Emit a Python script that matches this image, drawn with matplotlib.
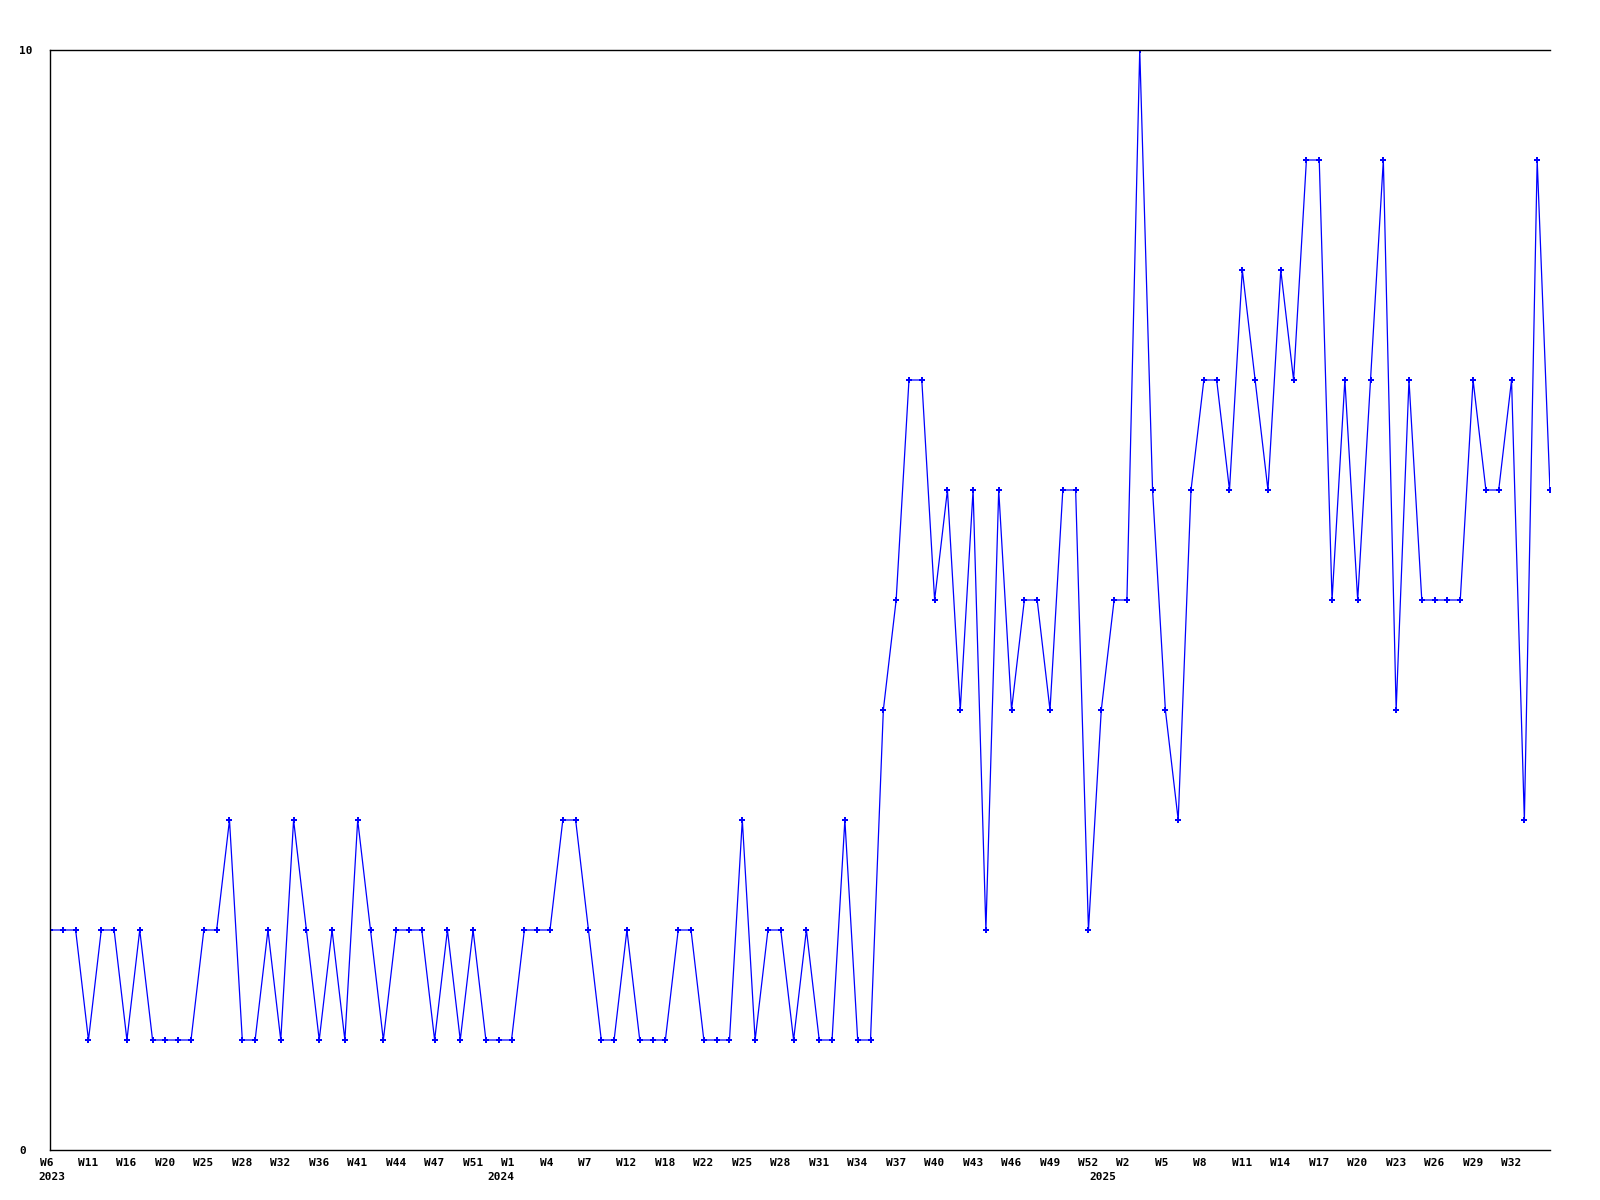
import matplotlib
matplotlib.use("Agg")
import matplotlib.pyplot as plt
from matplotlib.transforms import ScaledTranslation, blended_transform_factory

# ---- data ----
values = [2, 2, 2, 1, 2, 2, 1, 2, 1, 1,
          1, 1, 2, 2, 3, 1, 1, 2, 1, 3,
          2, 1, 2, 1, 3, 2, 1, 2, 2, 2,
          1, 2, 1, 2, 1, 1, 1, 2, 2, 2,
          3, 3, 2, 1, 1, 2, 1, 1, 1, 2,
          2, 1, 1, 1, 3, 1, 2, 2, 1, 2,
          1, 1, 3, 1, 1, 4, 5, 7, 7, 5,
          6, 4, 6, 2, 6, 4, 5, 5, 4, 6,
          6, 2, 4, 5, 5, 10, 6, 4, 3, 6,
          7, 7, 6, 8, 7, 6, 8, 7, 9, 9,
          5, 7, 5, 7, 9, 4, 7, 5, 5, 5,
          5, 7, 6, 6, 7, 3, 9, 6]
week_labels = ['W6', 'W11', 'W16', 'W20', 'W25', 'W28', 'W32', 'W36', 'W41', 'W44',
               'W47', 'W51', 'W1', 'W4', 'W7', 'W12', 'W18', 'W22', 'W25', 'W28',
               'W31', 'W34', 'W37', 'W40', 'W43', 'W46', 'W49', 'W52', 'W2', 'W5',
               'W8', 'W11', 'W14', 'W17', 'W20', 'W23', 'W26', 'W29', 'W32']
label_step = 3
year_labels = ['2023', '2024', '2025']
year_label_index = [0, 35, 82]
y_ticks = [0, 10]

# ---- figure ----
W, H, DPI = 1600, 1200, 100
fig = plt.figure(figsize=(W / DPI, H / DPI), dpi=DPI)
ax = fig.add_axes([50 / W, 50 / H, 1500 / W, 1100 / H])

x = list(range(len(values)))
ax.plot(x, values, color='#0000FF', linewidth=0.9, marker='P', markersize=4.5,
        markeredgewidth=0, markerfacecolor='#0000FF', solid_joinstyle='miter')

ax.set_xlim(0, len(values) - 1)
ax.set_ylim(0, 10)

for side in ('left', 'top', 'bottom'):
    ax.spines[side].set_color('black')
    ax.spines[side].set_linewidth(1.0)
ax.spines['right'].set_visible(False)

font = dict(family='DejaVu Sans Mono', weight='bold', size=8)

# y ticks
ax.set_yticks(y_ticks)
ax.set_yticklabels([str(v) for v in y_ticks], **font)
ax.tick_params(axis='y', length=0, pad=31 * 72 / DPI)
for lbl in ax.get_yticklabels():
    lbl.set_horizontalalignment('left')

# x ticks
xt = list(range(0, len(values), label_step))[:len(week_labels)]
ax.set_xticks(xt)
ax.set_xticklabels(week_labels, **font)
ax.tick_params(axis='x', length=0, pad=7.5 * 72 / DPI)
shift = ScaledTranslation(-10.5 / DPI, 0, fig.dpi_scale_trans)
for lbl in ax.get_xticklabels():
    lbl.set_horizontalalignment('left')
    lbl.set_transform(lbl.get_transform() + shift)

# year labels
btrans = blended_transform_factory(ax.transData, ax.transAxes)
ytrans = btrans + ScaledTranslation(-11.5 / DPI, -22 / DPI, fig.dpi_scale_trans)
for idx, yl in zip(year_label_index, year_labels):
    ax.text(idx, 0, yl, transform=ytrans, ha='left', va='top', **font)

fig.savefig('out.png', dpi=DPI, facecolor='white')
